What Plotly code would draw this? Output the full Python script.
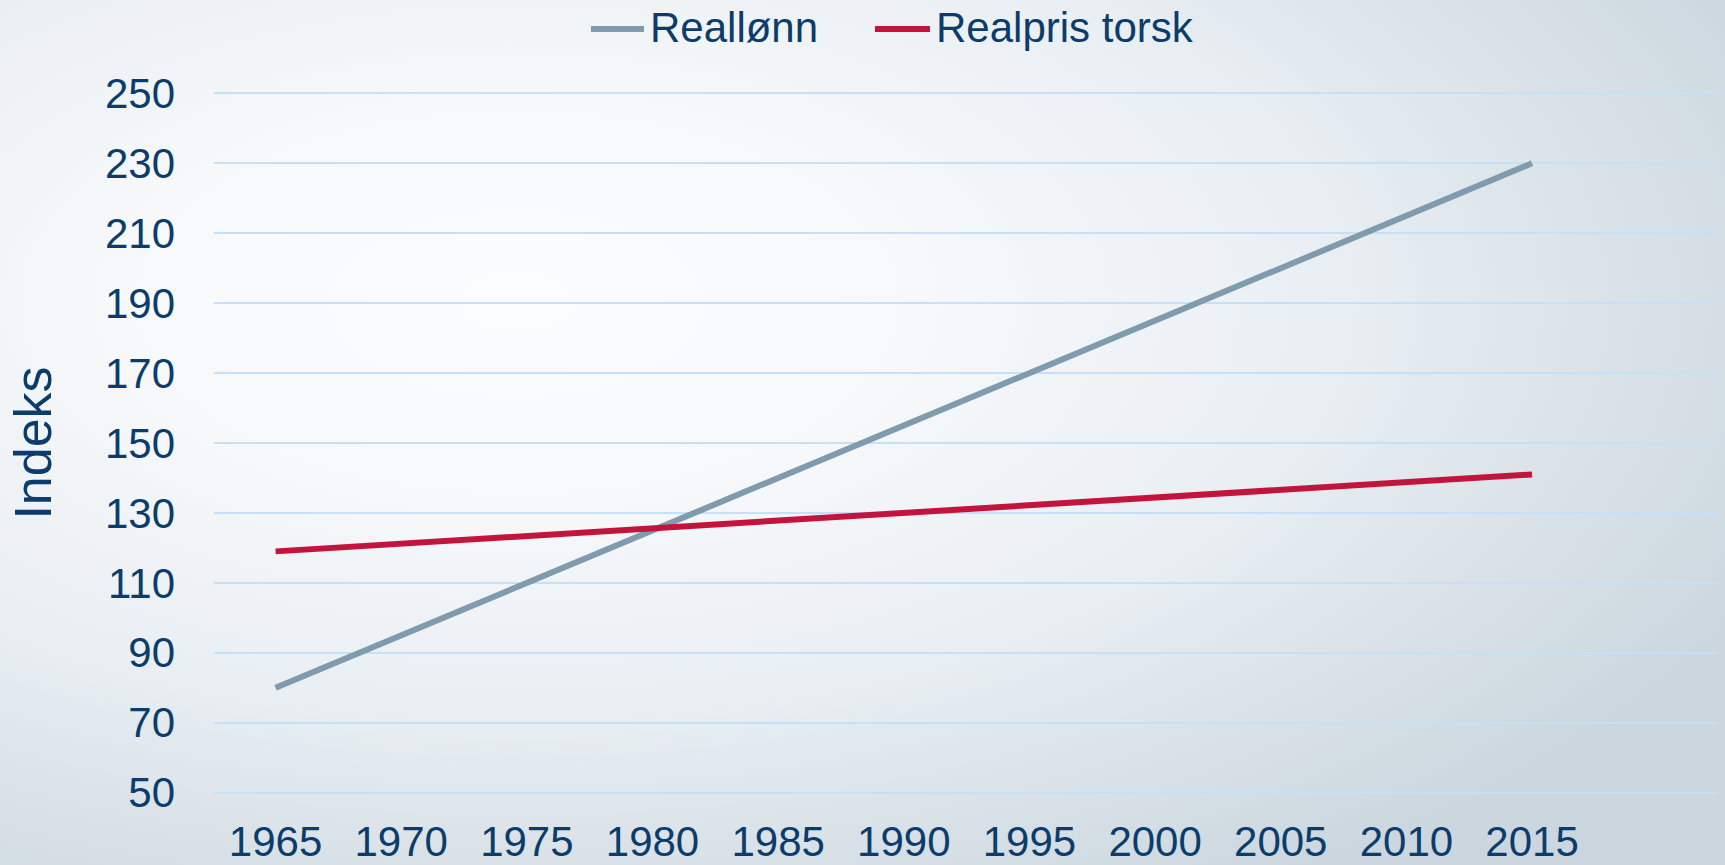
import base64
import plotly.graph_objects as go

years = [1965, 1970, 1975, 1980, 1985, 1990, 1995, 2000, 2005, 2010, 2015]
reallonn = [80, 95, 110, 125, 140, 155, 170, 185, 200, 215, 230]
realpris_torsk = [119, 121.2, 123.4, 125.6, 127.8, 130, 132.2, 134.4, 136.6, 138.8, 141]
y_ticks = [50, 70, 90, 110, 130, 150, 170, 190, 210, 230, 250]
series_names = ["Reallønn", "Realpris torsk"]
series_colors = ["#7f9bad", "#c3143d"]

W, H = 1725, 865
L, R, T, B = 214, 7, 92, 71
pw, ph = W - L - R, H - T - B

TEXT = "#0b3c6b"
FONT = "Liberation Sans, Arial, sans-serif"


def px_x(p):
    return (p - L) / pw


def px_y(p):
    return 1 + (T - p) / ph


svg = (
    '<svg xmlns="http://www.w3.org/2000/svg" width="1725" height="865" preserveAspectRatio="none" viewBox="0 0 1725 865">'
    '<defs><radialGradient id="g" cx="0.3" cy="0.35" r="0.8" gradientUnits="objectBoundingBox">'
    '<stop offset="0" stop-color="#fbfcfd"/>'
    '<stop offset="0.3" stop-color="#f6f8fa"/>'
    '<stop offset="0.6" stop-color="#e8eef2"/>'
    '<stop offset="1" stop-color="#cbd6de"/>'
    '</radialGradient></defs>'
    '<rect x="0" y="0" width="1725" height="865" fill="url(#g)"/></svg>'
)
src = "data:image/svg+xml;base64," + base64.b64encode(svg.encode()).decode()

fig = go.Figure()
for name, vals, col in zip(series_names, [reallonn, realpris_torsk], series_colors):
    fig.add_trace(go.Scatter(x=years, y=vals, mode="lines", name=name,
                             line=dict(color=col, width=6), showlegend=False))

# custom legend (sample lines + labels) placed like the reference
legend_sample_px = [(591, 644), (875, 930)]
shapes, annotations = [], []
for (x0, x1), name, col in zip(legend_sample_px, series_names, series_colors):
    shapes.append(dict(type="line", xref="paper", yref="paper",
                       x0=px_x(x0), x1=px_x(x1), y0=px_y(29), y1=px_y(29),
                       line=dict(color=col, width=6)))
    annotations.append(dict(text=name, xref="paper", yref="paper", x=px_x(x1 + 4), y=px_y(28),
                            xanchor="left", yanchor="middle", showarrow=False,
                            font=dict(size=42, color=TEXT, family=FONT)))

fig.update_layout(
    width=W, height=H,
    margin=dict(l=L, r=R, t=T, b=B, pad=0, autoexpand=False),
    paper_bgcolor="#eef3f6",
    plot_bgcolor="rgba(0,0,0,0)",
    font=dict(family=FONT, color=TEXT),
    images=[dict(source=src, xref="paper", yref="paper",
                 x=-L / pw, y=1 + T / ph, sizex=W / pw, sizey=H / ph,
                 xanchor="left", yanchor="top", sizing="stretch", layer="below")],
    shapes=shapes,
    annotations=annotations,
    showlegend=False,
)
fig.update_xaxes(range=[1962.55, 2022.4], tickvals=years, ticktext=[str(y) for y in years],
                 showgrid=False, zeroline=False, showline=False, ticks="", automargin=False,
                 tickfont=dict(size=42, color=TEXT, family=FONT), ticklabelstandoff=19)
fig.update_yaxes(range=[49.6, 250.4], tickvals=y_ticks, showgrid=True, gridcolor="#c6e0f7", gridwidth=2,
                 zeroline=False, showline=False, ticks="", automargin=False,
                 tickfont=dict(size=42, color=TEXT, family=FONT), ticklabelstandoff=38,
                 title=dict(text="Indeks", font=dict(size=52, color=TEXT, family=FONT), standoff=36))

fig.write_html("out.html", config={"displayModeBar": False},
               post_script="document.body.style.margin='0';")
